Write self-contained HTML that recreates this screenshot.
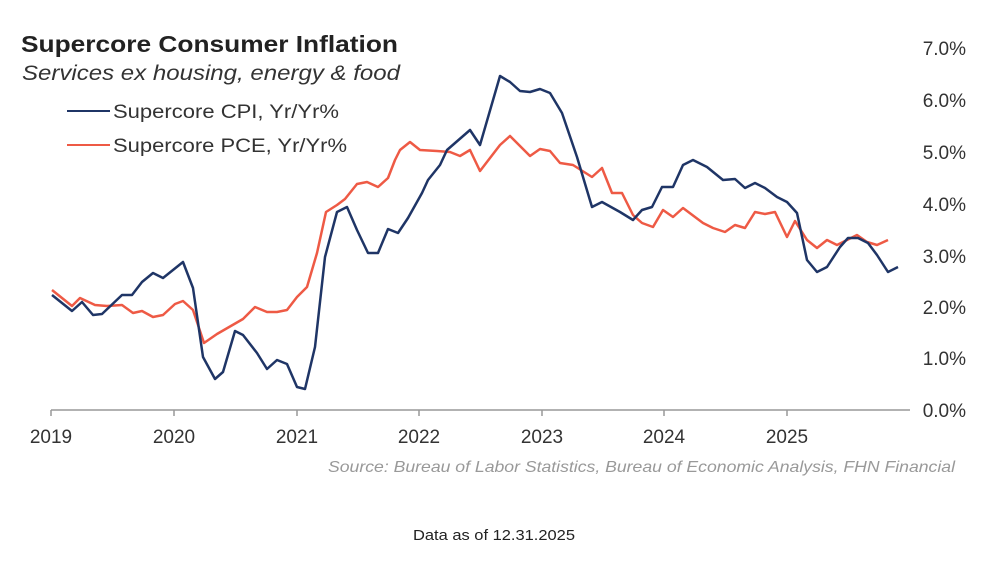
<!DOCTYPE html>
<html><head><style>
body{margin:0;background:#fff;width:990px;height:562px;overflow:hidden}
svg{display:block}
</style></head><body>
<svg width="990" height="562" xmlns="http://www.w3.org/2000/svg" font-family="Liberation Sans, sans-serif">
<text x="21" y="52" font-size="23" font-weight="bold" fill="#222" textLength="377" lengthAdjust="spacingAndGlyphs">Supercore Consumer Inflation</text>
<text x="22" y="80" font-size="21" font-style="italic" fill="#333" textLength="378" lengthAdjust="spacingAndGlyphs">Services ex housing, energy &amp; food</text>
<line x1="67" y1="111" x2="110" y2="111" stroke="#1f3566" stroke-width="2"/>
<text x="113" y="118" font-size="19" fill="#333" textLength="226" lengthAdjust="spacingAndGlyphs">Supercore CPI, Yr/Yr%</text>
<line x1="67" y1="145" x2="110" y2="145" stroke="#ee5a45" stroke-width="2"/>
<text x="113" y="152" font-size="19" fill="#333" textLength="234" lengthAdjust="spacingAndGlyphs">Supercore PCE, Yr/Yr%</text>
<g font-size="19" fill="#333" text-anchor="end">
<text x="966" y="55">7.0%</text><text x="966" y="107">6.0%</text><text x="966" y="159">5.0%</text>
<text x="966" y="211">4.0%</text><text x="966" y="263">3.0%</text><text x="966" y="314">2.0%</text>
<text x="966" y="365">1.0%</text><text x="966" y="417">0.0%</text>
</g>
<line x1="51" y1="410" x2="910" y2="410" stroke="#999" stroke-width="1.5"/>
<g stroke="#999" stroke-width="1.5">
<line x1="51" y1="410" x2="51" y2="416"/><line x1="174" y1="410" x2="174" y2="416"/><line x1="297" y1="410" x2="297" y2="416"/><line x1="419" y1="410" x2="419" y2="416"/><line x1="542" y1="410" x2="542" y2="416"/><line x1="664" y1="410" x2="664" y2="416"/><line x1="787" y1="410" x2="787" y2="416"/>
</g>
<g font-size="19" fill="#333" text-anchor="middle">
<text x="51" y="443">2019</text><text x="174" y="443">2020</text><text x="297" y="443">2021</text><text x="419" y="443">2022</text><text x="542" y="443">2023</text><text x="664" y="443">2024</text><text x="787" y="443">2025</text>
</g>
<polyline fill="none" stroke="#ee5a45" stroke-width="2.5" stroke-linejoin="round" points="52,290 72,306 80,298 95,305 107,306 122,305 133,313 142,311 153,317 163,315 175,304 183,301 193,310 204,343 217,334 243,319 255,307 267,312 277,312 287,310 297,297 307,287 317,253 326,212 337,205 345,199 357,184 367,182 378,187 388,178 395,160 400,150 410,142 420,150 437,151 450,152 460,156 470,150 480,171 500,145 510,136 530,156 540,149 550,151 560,163 573,165 592,177 602,168 612,193 622,193 633,215 642,223 653,227 663,210 673,217 683,208 703,223 713,228 725,232 735,225 745,228 755,212 765,214 775,212 787,237 795,221 807,240 817,248 827,240 837,245 847,240 857,235 867,242 877,245 888,240"/>
<polyline fill="none" stroke="#1f3566" stroke-width="2.5" stroke-linejoin="round" points="52,295 72,311 82,302 93,315 102,314 122,295 132,295 142,282 153,273 163,278 183,262 193,288 203,357 215,379 223,372 235,331 243,335 257,353 267,369 277,360 287,364 297,387 305,389 315,347 325,257 337,212 347,207 357,230 368,253 378,253 388,229 398,233 408,218 422,193 428,180 440,165 447,150 470,130 480,145 500,76 510,82 520,91 530,92 540,89 550,93 562,113 577,157 592,207 602,202 620,212 633,220 642,210 652,207 662,187 673,187 683,165 693,160 707,167 723,180 735,179 745,188 755,183 765,188 777,197 787,202 797,213 807,260 817,272 827,267 840,247 848,238 858,238 868,243 877,255 888,272 898,267"/>
<text x="328" y="472" font-size="16" font-style="italic" fill="#999" textLength="627" lengthAdjust="spacingAndGlyphs">Source: Bureau of Labor Statistics, Bureau of Economic Analysis, FHN Financial</text>
<text x="413" y="540" font-size="15" fill="#222" textLength="162" lengthAdjust="spacingAndGlyphs">Data as of 12.31.2025</text>
</svg>
</body></html>
